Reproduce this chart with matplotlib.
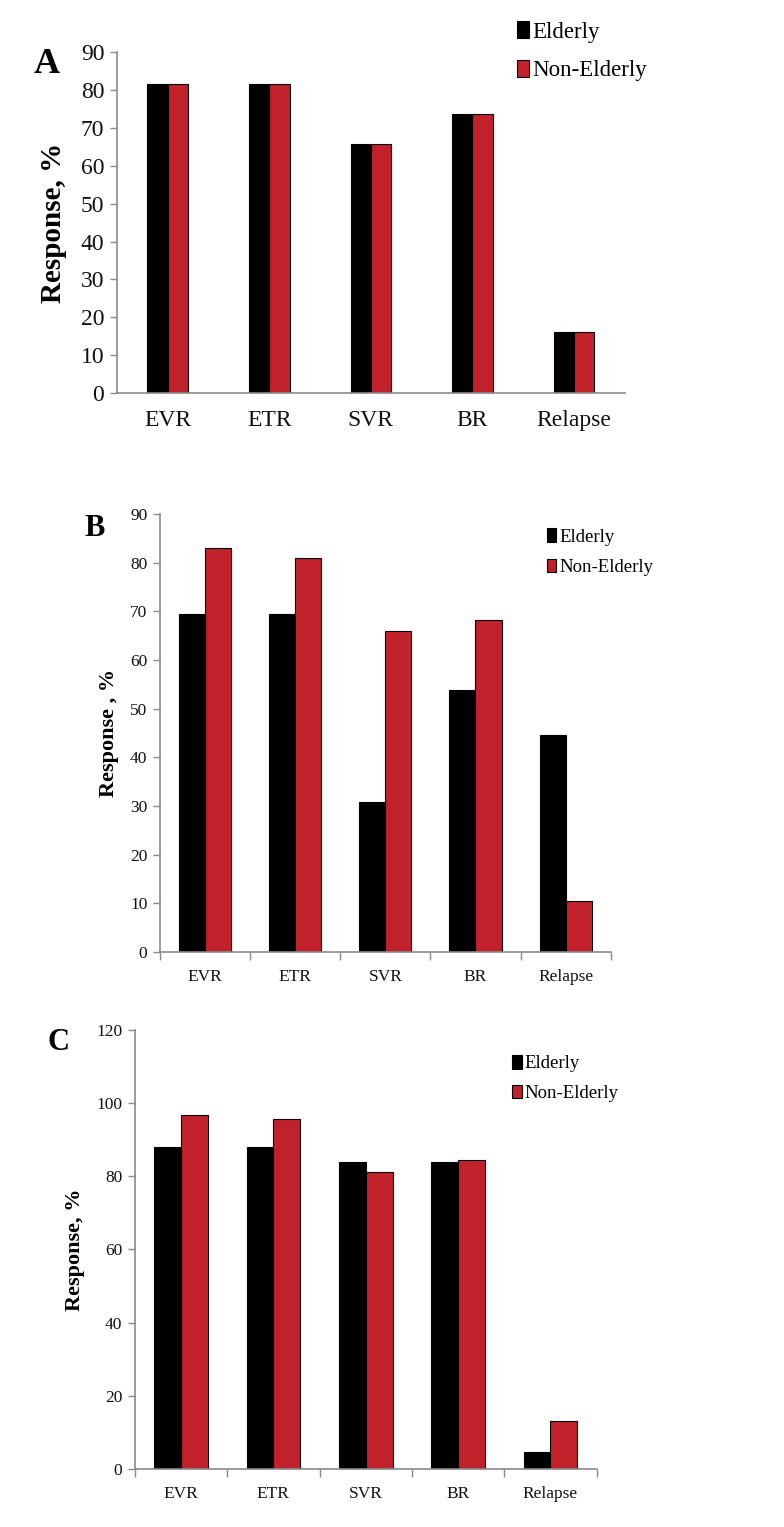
import numpy as np
import matplotlib
matplotlib.use("Agg")
from matplotlib import pyplot as plt

# Data
categories = ['EVR', 'ETR', 'SVR', 'BR', 'Relapse']
elderly_a = [81.7, 81.7, 65.8, 73.7, 16.1]
non_elderly_a = [81.7, 81.7, 65.8, 73.7, 16.1]
elderly_b = [69.4, 69.4, 30.9, 53.9, 44.5]
non_elderly_b = [83.0, 81.0, 66.0, 68.2, 10.5]
elderly_c = [88.1, 88.1, 84.0, 84.0, 4.6]
non_elderly_c = [96.8, 95.7, 81.2, 84.4, 13.0]

BLACK = '#000000'
RED = '#C1212A'
AXIS = '#8a8a8a'
SERIF = ['Liberation Serif', 'DejaVu Serif']

plt.rcParams['font.family'] = SERIF

fig = plt.figure(figsize=(7.84, 15.27), dpi=100)


def panel(rect, elderly, non_elderly, ymax, ystep, bar_w, tick_fs, ylabel,
          ylabel_fs, ylabel_pad, letter, letter_xy, letter_fs, leg_xy, leg_fs,
          leg_gap, xticks_marks):
    ax = fig.add_axes(rect)
    x = np.arange(len(categories))
    ax.bar(x - bar_w / 2, elderly, bar_w, color=BLACK, edgecolor=BLACK,
           linewidth=0.8, label='Elderly')
    ax.bar(x + bar_w / 2, non_elderly, bar_w, color=RED, edgecolor=BLACK,
           linewidth=0.8, label='Non-Elderly')
    ax.set_xlim(-0.5, len(categories) - 0.5)
    ax.set_ylim(0, ymax)
    ax.set_yticks(np.arange(0, ymax + 1, ystep))
    ax.set_xticks(x)
    ax.set_xticklabels(categories)
    for s in ['top', 'right']:
        ax.spines[s].set_visible(False)
    for s in ['left', 'bottom']:
        ax.spines[s].set_color(AXIS)
        ax.spines[s].set_linewidth(1.2)
    ax.tick_params(axis='y', colors=AXIS, labelcolor='#111111',
                   labelsize=tick_fs, length=5, width=1.0, pad=4)
    ax.tick_params(axis='x', which='major', length=0, labelsize=tick_fs,
                   labelcolor='#111111', pad=12)
    if xticks_marks:
        ax.set_xticks(np.arange(-0.5, len(categories)), minor=True)
        ax.tick_params(axis='x', which='minor', length=6, colors=AXIS,
                       width=1.0)
    ax.set_ylabel(ylabel, fontsize=ylabel_fs, fontweight='bold',
                  labelpad=ylabel_pad)
    fig.text(letter_xy[0], letter_xy[1], letter, fontsize=letter_fs,
             fontweight='bold', ha='left', va='center')
    ax.legend(loc='upper left', bbox_to_anchor=leg_xy,
              bbox_transform=fig.transFigure, frameon=False,
              fontsize=leg_fs, handlelength=0.5, handleheight=0.75,
              handletextpad=0.15, labelspacing=leg_gap, borderaxespad=0)
    return ax


panel([0.149, 0.7426, 0.648, 0.2233], elderly_a, non_elderly_a, 90, 10,
      0.2, 17, 'Response, %', 21, 10, 'A', (0.043, 0.958), 26,
      (0.648, 0.992), 16.5, 0.75, False)

panel([0.204, 0.3766, 0.575, 0.2868], elderly_b, non_elderly_b, 90, 10,
      0.29, 12.5, 'Response , %', 16, 8, 'B', (0.108, 0.654), 22,
      (0.688, 0.659), 13.5, 0.7, True)

panel([0.172, 0.038, 0.589, 0.2875], elderly_c, non_elderly_c, 120, 20,
      0.29, 12.5, 'Response, %', 16, 8, 'C', (0.06, 0.317), 22,
      (0.644, 0.314), 13.5, 0.65, True)

fig.savefig('out.png', dpi=100, facecolor='white')
